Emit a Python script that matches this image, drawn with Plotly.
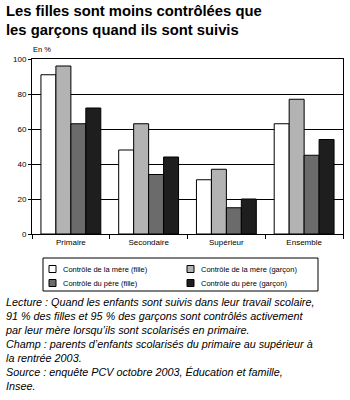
import plotly.graph_objects as go

categories = ["Primaire", "Secondaire", "Supérieur", "Ensemble"]
series_names = ["Contrôle de la mère (fille)", "Contrôle de la mère (garçon)",
                "Contrôle du père (fille)", "Contrôle du père (garçon)"]
mere_fille = [91, 48, 31, 63]
mere_garcon = [96, 63, 37, 77]
pere_fille = [63, 34, 15, 45]
pere_garcon = [72, 44, 20, 54]
y_ticks = [0, 20, 40, 60, 80, 100]

colors = ["#ffffff", "#b3b3b3", "#6b6b6b", "#1e1e1e"]
values = [mere_fille, mere_garcon, pere_fille, pere_garcon]

FONT = "Liberation Sans, Arial, sans-serif"
W, H = 350, 400
ML, MR, MT, MB = 32, 7, 59, 166
PW, PH = W - ML - MR, H - MT - MB


def px(x):
    return (x - ML) / PW


def py(y):
    return (H - MB - y) / PH


fig = go.Figure()
for name, vals, col in zip(series_names, values, colors):
    fig.add_trace(go.Bar(x=categories, y=vals, name=name, showlegend=False,
                         marker=dict(color=col, line=dict(color="black", width=1))))

fig.update_layout(
    width=W, height=H,
    margin=dict(l=ML, r=MR, t=MT, b=MB),
    paper_bgcolor="white", plot_bgcolor="white",
    barmode="group", bargap=0.23, bargroupgap=0,
    font=dict(family=FONT, color="black", size=8),
    showlegend=False,
)
fig.update_xaxes(showline=True, linecolor="black", linewidth=1, mirror=True,
                 ticks="outside", tickson="boundaries", ticklen=4, tickcolor="black",
                 tickfont=dict(size=8), showgrid=False)
fig.update_yaxes(range=[0, 100], tickvals=y_ticks, showgrid=True, gridcolor="black",
                 gridwidth=1, showline=True, linecolor="black", linewidth=1, mirror=True,
                 ticks="outside", ticklen=3, tickcolor="black", tickfont=dict(size=8),
                 zeroline=False)

# legend (manual)
fig.add_shape(type="rect", xref="paper", yref="paper", x0=px(43), x1=px(318),
              y0=py(258), y1=py(291), line=dict(color="black", width=1),
              fillcolor="white")
leg_pos = [(49, 269), (187, 269), (49, 283), (187, 283)]
for name, col, (lx, ly) in zip(series_names, colors, leg_pos):
    fig.add_shape(type="rect", xref="paper", yref="paper", x0=px(lx), x1=px(lx + 7),
                  y0=py(ly - 3.5), y1=py(ly + 3.5), line=dict(color="black", width=1),
                  fillcolor=col)
    fig.add_annotation(xref="paper", yref="paper", x=px(lx + 12), y=py(ly),
                       xanchor="left", yanchor="middle", text=name, showarrow=False,
                       font=dict(size=7.5))

fig.add_annotation(xref="paper", yref="paper", x=-0.003, y=1.02, xanchor="left",
                   yanchor="bottom", text="En %", showarrow=False, font=dict(size=7.5))
fig.add_annotation(xref="paper", yref="paper", x=px(4), y=py(1),
                   xanchor="left", yanchor="top",
                   text="<b>Les filles sont moins contrôlées que<br>les garçons quand ils sont suivis</b>",
                   showarrow=False, align="left", font=dict(size=14.8))

notes = ("<i>Lecture : Quand les enfants sont suivis dans leur travail scolaire,<br>"
         "91 % des filles et 95 % des garçons sont contrôlés activement<br>"
         "par leur mère lorsqu’ils sont scolarisés en primaire.<br>"
         "Champ : parents d’enfants scolarisés du primaire au supérieur à<br>"
         "la rentrée 2003.<br>"
         "Source : enquête PCV octobre 2003, Éducation et famille,<br>"
         "Insee.</i>")
fig.add_annotation(xref="paper", yref="paper", x=px(3), y=py(294),
                   xanchor="left", yanchor="top", text=notes, showarrow=False,
                   align="left", font=dict(size=10.8))

fig.write_html("out.html")
